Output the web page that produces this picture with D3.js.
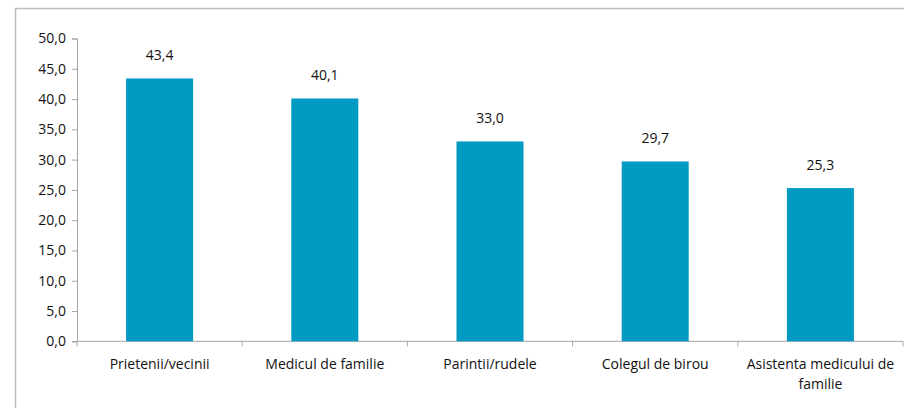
<!DOCTYPE html>
<html>
<head>
<meta charset="utf-8">
<script src="https://cdn.jsdelivr.net/npm/d3@7"></script>
<style>
  html, body { margin: 0; padding: 0; background: #fff; }
  svg { display: block; }
  text { font-family: "Open Sans", "Noto Sans", sans-serif; fill: #111; }
</style>
</head>
<body>
<svg id="chart" width="904" height="408"></svg>
<script>
// Chart data
const categories = ["Prietenii/vecinii", "Medicul de familie", "Parintii/rudele", "Colegul de birou", "Asistenta medicului de familie"];
const values = [43.4, 40.1, 33.0, 29.7, 25.3];
const yTicks = [0, 5, 10, 15, 20, 25, 30, 35, 40, 45, 50];

const svg = d3.select("#chart");
const W = 904, H = 408;
const plot = { left: 77, right: 903, top: 38.5, bottom: 341.3 };
const fontSize = 14;

const fmt = v => d3.format(".1f")(v).replace(".", ",");

// Outer frame (extends past the right and bottom edges)
svg.append("rect")
  .attr("x", 15.5).attr("y", 8.5)
  .attr("width", W).attr("height", H)
  .attr("fill", "none").attr("stroke", "#bdbdbd").attr("stroke-width", 1.5);

const x = d3.scaleBand().domain(categories).range([plot.left, plot.right]).paddingInner(0).paddingOuter(0);
const y = d3.scaleLinear().domain([0, 50]).range([plot.bottom, plot.top]);

const barW = 67;

// Y axis
const yAxis = svg.append("g")
  .attr("transform", `translate(${plot.left},0)`)
  .call(d3.axisLeft(y).tickValues(yTicks).tickFormat(fmt).tickSize(5).tickPadding(6));
yAxis.select(".domain").attr("stroke", "#a6a6a6");
yAxis.selectAll(".tick line").attr("stroke", "#a6a6a6");
yAxis.selectAll(".tick text").attr("font-size", fontSize).attr("fill", "#111")
  .style("font-family", '"Open Sans", "Noto Sans", sans-serif');

// X axis line with ticks at category boundaries
const xg = svg.append("g");
xg.append("line")
  .attr("x1", plot.left).attr("x2", plot.right)
  .attr("y1", plot.bottom).attr("y2", plot.bottom)
  .attr("stroke", "#a6a6a6");
const bounds = categories.map(c => x(c)).concat([x(categories[categories.length - 1]) + x.bandwidth()]);
xg.selectAll("line.tk").data(bounds).join("line").attr("class", "tk")
  .attr("x1", d => d).attr("x2", d => d)
  .attr("y1", plot.bottom).attr("y2", plot.bottom + 5)
  .attr("stroke", "#a6a6a6");

// Bars
svg.selectAll("rect.bar").data(values).join("rect").attr("class", "bar")
  .attr("x", (d, i) => x(categories[i]) + x.bandwidth() / 2 - barW / 2)
  .attr("width", barW)
  .attr("y", d => y(d))
  .attr("height", d => y(0) - y(d))
  .attr("fill", "#009ac3");

// Value labels
svg.selectAll("text.val").data(values).join("text").attr("class", "val")
  .attr("x", (d, i) => x(categories[i]) + x.bandwidth() / 2)
  .attr("y", d => y(d) - 18)
  .attr("text-anchor", "middle")
  .attr("font-size", fontSize)
  .text(fmt);

// Category labels (wrapped where needed)
const wrap = { "Asistenta medicului de familie": ["Asistenta medicului de", "familie"] };
const cl = svg.selectAll("text.cat").data(categories).join("text").attr("class", "cat")
  .attr("x", d => x(d) + x.bandwidth() / 2)
  .attr("y", plot.bottom + 28)
  .attr("text-anchor", "middle")
  .attr("font-size", fontSize);
cl.each(function(d) {
  const lines = wrap[d] || [d];
  const t = d3.select(this);
  lines.forEach((ln, i) => {
    t.append("tspan").attr("x", x(d) + x.bandwidth() / 2).attr("dy", i === 0 ? 0 : 20).text(ln);
  });
});
</script>
</body>
</html>
